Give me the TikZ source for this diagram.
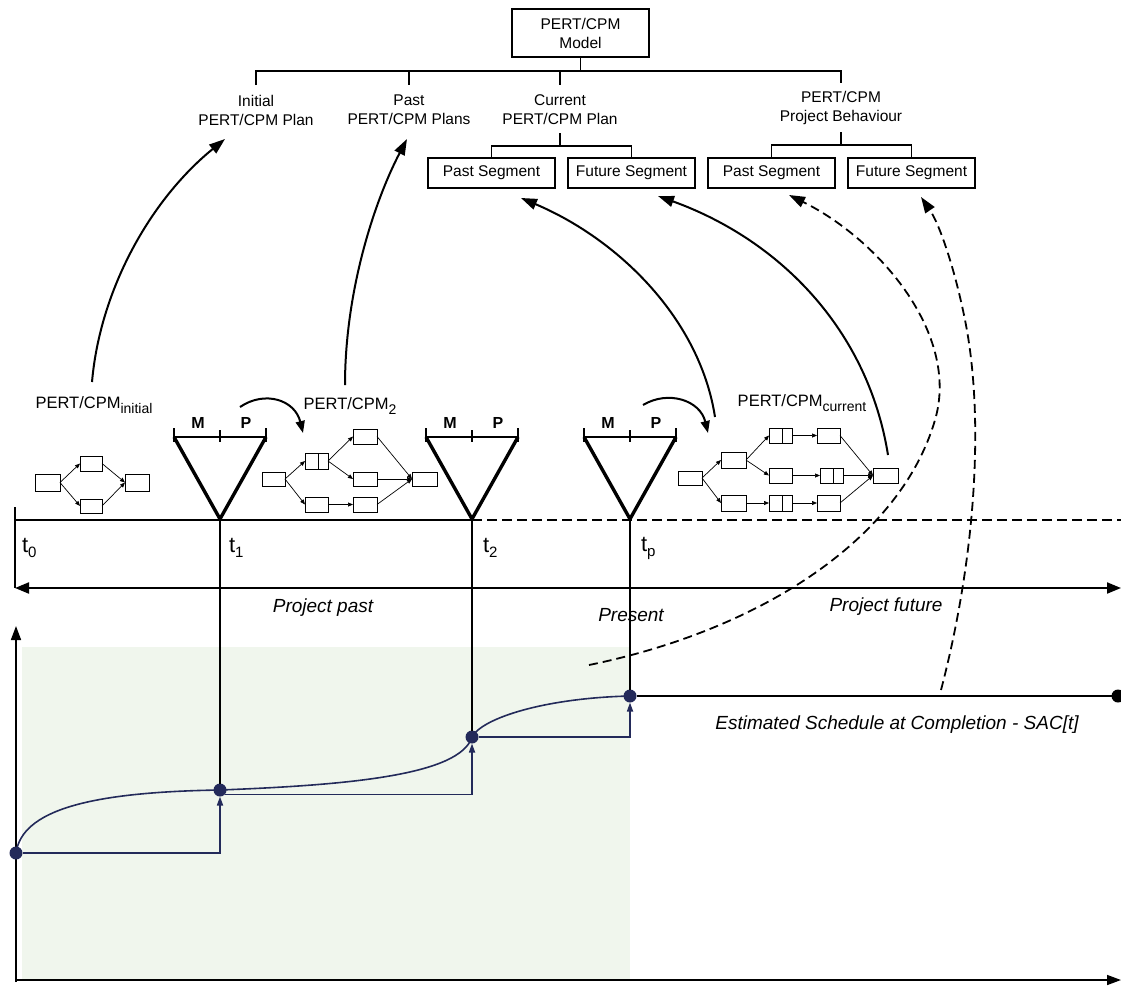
\documentclass[tikz,border=0pt]{standalone}
\usepackage{fontspec}
\setmainfont{Liberation Sans}
\usetikzlibrary{arrows.meta}
\definecolor{navy}{RGB}{35,42,90}
\definecolor{paleGreen}{RGB}{240,246,237}

\begin{document}
\begin{tikzpicture}[x=1pt,y=-1pt,
  every node/.style={inner sep=0pt, outer sep=0pt},
  treeTxt/.style={font=\fontsize{15.5}{19}\selectfont, align=center},
  tree/.style={line width=1.4pt},
  seg/.style={draw, line width=1.1pt, minimum width=127pt, minimum height=30pt, font=\fontsize{15.5}{19}\selectfont},
  big/.style={line width=2pt, -{Triangle[length=16pt,width=11pt]}},
  bigdash/.style={line width=1.8pt, dash pattern=on 9pt off 5pt, -{Triangle[length=16pt,width=11pt]}},
  tri/.style={line width=3.4pt, line join=miter},
  bar/.style={line width=1.8pt},
  act/.style={draw, line width=0.9pt},
  link/.style={line width=0.7pt, -{Triangle[length=5pt,width=4pt]}},
  netlbl/.style={font=\fontsize{16.5}{19}\selectfont},
  mp/.style={font=\bfseries\fontsize{16}{19}\selectfont},
  tlbl/.style={font=\fontsize{22}{24}\selectfont, anchor=west},
  era/.style={font=\itshape\fontsize{19}{22}\selectfont},
  dot/.style={circle, fill=navy, minimum size=13pt},
  curve/.style={navy, line width=1.6pt},
  stair/.style={navy, line width=1.6pt, -{Triangle[length=9pt,width=6pt]}},
  small/.style={line width=2pt, -{Triangle[length=12pt,width=9pt]}},
]
\useasboundingbox (0,0) rectangle (1121,985);

% ---------- shaded chart area and axes ----------
\fill[paleGreen] (22,647) rectangle (630,980);
\draw[line width=1.6pt, -{Triangle[length=14pt,width=10pt]}] (16,982) -- (16,626);
\draw[line width=1.6pt, -{Triangle[length=14pt,width=10pt]}] (15,980) -- (1121,980);

% ---------- model hierarchy ----------
\node[draw, line width=1.1pt, minimum width=137pt, minimum height=48pt, treeTxt] (model) at (580.5,33) {PERT/CPM\\Model};
\coordinate (hub) at (580.5,71);
\draw[tree] (model.south) -- (hub);
\draw[tree] (256,85) -- (256,71) -- (841,71) -- (841,83);
\draw[tree] (409,71) -- (409,85);
\draw[tree] (560,71) -- (560,85);

\node[treeTxt] (initial) at (256,110) {Initial\\PERT/CPM Plan};
\node[treeTxt] (pastplans) at (409,110) {Past\\PERT/CPM Plans};
\node[treeTxt] (current) at (560,110) {Current\\PERT/CPM Plan};
\node[treeTxt] (behav) at (841,108) {PERT/CPM\\Project Behaviour};

\node[seg] (pastA) at (491.5,173) {Past Segment};
\node[seg] (futA) at (631.5,173) {Future Segment};
\node[seg] (pastB) at (771.5,173) {Past Segment};
\node[seg] (futB) at (911.5,173) {Future Segment};

\draw[tree] (560,133) -- (560,146);
\draw[tree] (pastA.north) -- (491.5,146) -- (631.5,146) -- (futA.north);
\draw[tree] (841,132) -- (841,145);
\draw[tree] (pastB.north) -- (771.5,145) -- (911.5,145) -- (futB.north);

% ---------- timeline ----------
\draw[line width=2.2pt] (15,520) -- (472,520);
\draw[line width=2.2pt, dash pattern=on 10pt off 5pt] (472,520) -- (1121,520);
\draw[line width=2pt] (15,507) -- (15,588);

\foreach \ax/\nm in {220/1, 472/2, 630/3} {
  \coordinate (apex\nm) at (\ax,519);
  \draw[tri] (\ax-46,437) -- (apex\nm) -- (\ax+46,437);
  \draw[bar] (\ax-46,437) -- (\ax+46,437);
  \draw[bar] (\ax-46,428) -- (\ax-46,442);
  \draw[bar] (\ax+46,428) -- (\ax+46,442);
  \draw[bar] (\ax,430) -- (\ax,442);
  \node[mp] (m\nm) at (\ax-22,423) {M};
  \node[mp] (p\nm) at (\ax+26,423) {P};
}

\node[tlbl] (t0) at (22,548) {t\raisebox{-5pt}{\fontsize{15}{15}\selectfont 0}};
\node[tlbl] (t1) at (229,548) {t\raisebox{-5pt}{\fontsize{15}{15}\selectfont 1}};
\node[tlbl] (t2) at (483,548) {t\raisebox{-5pt}{\fontsize{15}{15}\selectfont 2}};
\node[tlbl] (tp) at (641,548) {t\raisebox{-5pt}{\fontsize{15}{15}\selectfont p}};

% ---------- plan networks ----------
\node[netlbl] (lblInit) at (94,405) {PERT/CPM\raisebox{-5pt}{\fontsize{14}{14}\selectfont initial}};
\node[netlbl] (lblTwo) at (350,406) {PERT/CPM\raisebox{-5pt}{\fontsize{14}{14}\selectfont 2}};
\node[netlbl] (lblCur) at (802,403) {PERT/CPM\raisebox{-5pt}{\fontsize{14}{14}\selectfont current}};

% initial network
\node[act, minimum width=25pt, minimum height=17pt] (n1a) at (47.5,482.5) {};
\node[act, minimum width=22pt, minimum height=15pt] (n1b) at (91,463.5) {};
\node[act, minimum width=22pt, minimum height=14pt] (n1c) at (91,506) {};
\node[act, minimum width=24pt, minimum height=17pt] (n1d) at (137,482.5) {};
\draw[link] (n1a.east) -- (n1b.west);
\draw[link] (n1a.east) -- (n1c.west);
\draw[link] (n1b.east) -- (n1d.west);
\draw[link] (n1c.east) -- (n1d.west);

% second network
\node[act, minimum width=23pt, minimum height=14pt] (n2a) at (273.5,479) {};
\node[act, minimum width=23pt, minimum height=16pt] (n2b) at (316.5,461) {};
\node[act, minimum width=24pt, minimum height=15pt] (n2c) at (365,436.5) {};
\node[act, minimum width=24pt, minimum height=14pt] (n2d) at (365,479) {};
\node[act, minimum width=23pt, minimum height=15pt] (n2e) at (316.5,504.5) {};
\node[act, minimum width=24pt, minimum height=15pt] (n2f) at (365,504.5) {};
\node[act, minimum width=25pt, minimum height=14pt] (n2g) at (424.5,479) {};
\draw[line width=0.9pt] ([xshift=1.5pt]n2b.north) -- ([xshift=1.5pt]n2b.south);
\draw[link] (n2a.east) -- (n2b.west);
\draw[link] (n2a.east) -- (n2e.west);
\draw[link] (n2b.east) -- (n2c.west);
\draw[link] (n2b.east) -- (n2d.west);
\draw[link] (n2e.east) -- (n2f.west);
\draw[link] (n2c.east) -- (n2g.west);
\draw[link] (n2d.east) -- (n2g.west);
\draw[link] (n2f.east) -- (n2g.west);

% current network
\node[act, minimum width=24pt, minimum height=14pt] (n3a) at (690,478) {};
\node[act, minimum width=25pt, minimum height=16pt] (n3b) at (733.5,460) {};
\node[act, minimum width=25pt, minimum height=16pt] (n3c) at (733.5,503) {};
\node[act, minimum width=23pt, minimum height=15pt] (n3d) at (780.5,435.5) {};
\node[act, minimum width=23pt, minimum height=15pt] (n3e) at (828.5,435.5) {};
\node[act, minimum width=23pt, minimum height=15pt] (n3f) at (780.5,475.5) {};
\node[act, minimum width=23pt, minimum height=15pt] (n3g) at (831.5,475.5) {};
\node[act, minimum width=23pt, minimum height=16pt] (n3h) at (780.5,503) {};
\node[act, minimum width=23pt, minimum height=16pt] (n3i) at (828.5,503) {};
\node[act, minimum width=25pt, minimum height=15pt] (n3j) at (885.5,475.5) {};
\foreach \b in {n3d,n3g,n3h}
  \draw[line width=0.9pt] ([xshift=1.5pt]\b.north) -- ([xshift=1.5pt]\b.south);
\draw[link] (n3a.east) -- (n3b.west);
\draw[link] (n3a.east) -- (n3c.west);
\draw[link] (n3b.east) -- (n3d.west);
\draw[link] (n3b.east) -- (n3f.west);
\draw[link] (n3d.east) -- (n3e.west);
\draw[link] (n3f.east) -- (n3g.west);
\draw[link] (n3c.east) -- (n3h.west);
\draw[link] (n3h.east) -- (n3i.west);
\draw[link] (n3e.east) -- (n3j.west);
\draw[link] (n3g.east) -- (n3j.west);
\draw[link] (n3i.east) -- (n3j.west);

% monitoring / planning hand-over arrows
\draw[small] (240,407) .. controls (265,390) and (295,400) .. (303,433);
\draw[small] (643,405) .. controls (668,390) and (700,400) .. (708,433);

% ---------- mapping arrows into the model ----------
\coordinate (s1) at (92,382);   \coordinate (e1) at (225,139);
\coordinate (s2) at (345,385);  \coordinate (e2) at (407,139);
\coordinate (s3) at (715,417);  \coordinate (e3) at (521,198);
\coordinate (s4) at (888,455);  \coordinate (e4) at (658,196);
\coordinate (s5) at (589,665);  \coordinate (e5) at (789,195);
\coordinate (s6) at (941,690);  \coordinate (e6) at (921,197);
\draw[big] (s1) .. controls (100,290) and (150,200) .. (e1);
\draw[big] (s2) .. controls (345,290) and (375,200) .. (e2);
\draw[big] (s3) .. controls (700,320) and (620,240) .. (e3);
\draw[big] (s4) .. controls (868,330) and (780,240) .. (e4);
\draw[bigdash] (s5) .. controls (760,630) and (900,540) .. (935,420)
                   .. controls (960,335) and (880,240) .. (e5);
\draw[bigdash] (s6) .. controls (975,560) and (985,420) .. (965,320)
                   .. controls (955,270) and (940,225) .. (e6);

% ---------- project periods ----------
\draw[line width=2pt, {Triangle[length=14pt,width=11pt]}-{Triangle[length=14pt,width=11pt]}] (15,588) -- (1121,588);
\node[era] (pastTxt) at (323,608) {Project past};
\node[era] (presTxt) at (631,615) {Present};
\node[era] (futTxt) at (886,607) {Project future};

% ---------- schedule estimate curve ----------
\node[dot] (d0) at (16,853) {};
\node[dot] (d1) at (220,790) {};
\node[dot] (d2) at (472,737) {};
\node[dot] (d3) at (630,696) {};
\node[circle, fill=black, minimum size=13pt] (dend) at (1118,696) {};

\draw[line width=1.5pt] (apex1) -- (d1);
\draw[line width=1.5pt] (apex2) -- (d2);
\draw[line width=1.5pt] (apex3) -- (d3);

\draw[stair] (d0) -| (d1);
\draw[stair] (d1.south east) -| (d2);
\draw[stair] (d2) -| (d3);

\draw[curve] (d0.center) .. controls (22,810) and (90,792) .. (d1.center);
\draw[curve] (d1.center) .. controls (350,785) and (460,775) .. (d2.center);
\draw[curve] (d2.center) .. controls (482,718) and (545,698) .. (d3.center);
\draw[line width=1.6pt] (d3) -- (dend);

\node[era] (sacTxt) at (897,725) {Estimated Schedule at Completion - SAC[t]};
\end{tikzpicture}
\end{document}
